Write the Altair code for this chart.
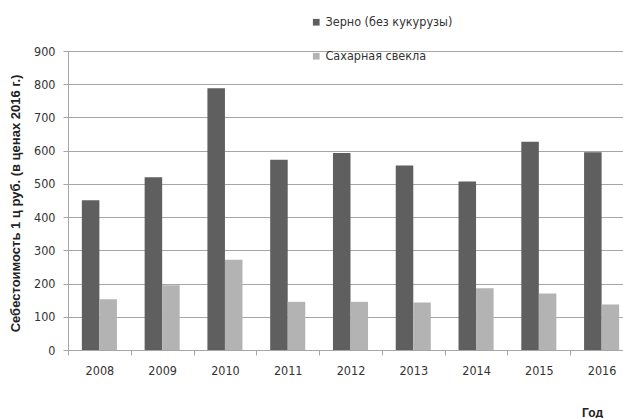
import altair as alt
import pandas as pd

years = ["2008", "2009", "2010", "2011", "2012", "2013", "2014", "2015", "2016"]
grain = [451, 520, 788, 573, 593, 555, 507, 627, 595]
beet = [153, 195, 272, 145, 145, 143, 186, 170, 137]
series = ["Зерно (без кукурузы)", "Сахарная свекла"]
colors = ["#5f5f5f", "#b3b3b3"]

rows = []
for i, y in enumerate(years):
    rows.append({"year": y, "crop": series[0], "value": grain[i]})
    rows.append({"year": y, "crop": series[1], "value": beet[i]})
df = pd.DataFrame(rows)

narrow = "DejaVu Sans Condensed, sans-serif"
bold = "Liberation Sans, Arial, sans-serif"
label_size = 12.5

chart = alt.Chart(df).mark_bar().encode(
    x=alt.X(
        "year:N",
        sort=years,
        scale=alt.Scale(range=[0, 565], paddingInner=0, paddingOuter=0),
        axis=alt.Axis(
            title="Год",
            titleFont=bold,
            titleFontSize=12,
            titleFontWeight="bold",
            titleColor="#222222",
            titleX=524,
            titleY=62,
            titleAlign="center",
            titleBaseline="middle",
            labelAngle=0,
            labelFont=narrow,
            labelFontSize=label_size,
            labelColor="#333333",
            labelPadding=9,
            tickBand="extent",
            tickSize=5,
            tickColor="#a6a6a6",
            domainColor="#a6a6a6",
            grid=False,
        ),
    ),
    xOffset=alt.XOffset(
        "crop:N",
        sort=series,
        scale=alt.Scale(paddingInner=0, paddingOuter=0.79),
    ),
    y=alt.Y(
        "value:Q",
        scale=alt.Scale(domain=[0, 900], nice=False),
        axis=alt.Axis(
            title="Себестоимость 1 ц руб. (в ценах 2016 г.)",
            titleFont=bold,
            titleFontSize=13,
            titleFontWeight="bold",
            titleColor="#222222",
            titleX=-53,
            titleY=152,
            titleAngle=270,
            titleAlign="center",
            titleBaseline="middle",
            values=list(range(0, 901, 100)),
            labelFont=narrow,
            labelFontSize=label_size,
            labelColor="#333333",
            labelPadding=8,
            tickSize=5,
            tickColor="#a6a6a6",
            domainColor="#a6a6a6",
            gridColor="#a6a6a6",
            gridWidth=1,
        ),
    ),
    color=alt.Color(
        "crop:N",
        sort=series,
        scale=alt.Scale(domain=series, range=colors),
        legend=alt.Legend(
            title=None,
            orient="none",
            legendX=242,
            legendY=-35,
            symbolType="square",
            symbolSize=45,
            symbolStrokeWidth=0,
            labelFont=narrow,
            labelFontSize=label_size,
            labelColor="#333333",
            labelOffset=3,
            rowPadding=21,
        ),
    ),
).properties(
    width=555,
    height=299,
    autosize=alt.AutoSizeParams(type="none"),
    padding={"left": 68, "top": 51, "right": 0, "bottom": 68},
).configure_view(stroke=None)

chart.save("out.html", embed_options={"renderer": "svg", "actions": False})
